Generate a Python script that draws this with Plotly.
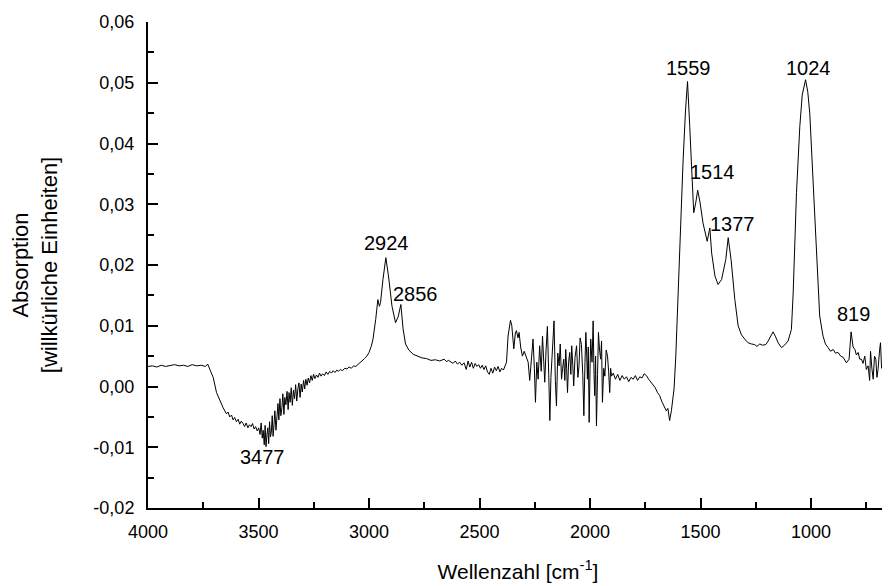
import plotly.graph_objects as go

# ---- data (wavenumber cm^-1, absorbance) ----
wn_a = [4000, 3980, 3960, 3940, 3920, 3900, 3880, 3860, 3840, 3820, 3800, 3780, 3760, 3740, 3730,
        3720, 3705, 3690, 3675, 3660, 3645, 3638, 3630, 3622, 3615, 3608, 3600, 3592, 3585, 3578,
        3570, 3563, 3556, 3548, 3541, 3534, 3527, 3520, 3513, 3506, 3499, 3493, 3488, 3483, 3479,
        3474, 3470, 3466, 3462, 3458, 3454, 3450, 3446, 3442, 3438, 3434, 3430, 3426, 3421, 3417,
        3412, 3408, 3403, 3399, 3394, 3390, 3385, 3381, 3376, 3371, 3366, 3362, 3357, 3352, 3347,
        3342, 3337, 3332, 3327, 3322, 3317, 3312, 3307, 3302, 3296, 3291, 3286, 3280, 3275, 3269,
        3263, 3257, 3251, 3245, 3238, 3231, 3224, 3217, 3210, 3202, 3194, 3186, 3178, 3170, 3162,
        3154, 3146, 3138, 3130, 3120, 3110, 3100, 3090, 3080, 3070, 3060, 3050, 3040, 3030, 3020, 3010]
ab_a = [0.0033, 0.0034, 0.0032, 0.0035, 0.0033, 0.0034, 0.0036, 0.0034, 0.0035, 0.0033, 0.0036, 0.0034, 0.0035, 0.0033, 0.0037,
        0.0028, 0.0015, -0.0010, -0.0024, -0.0035, -0.0045, -0.0042, -0.0050, -0.0047, -0.0055, -0.0051, -0.0058, -0.0054, -0.0062, -0.0057,
        -0.0061, -0.0066, -0.0060, -0.0068, -0.0063, -0.0066, -0.0061, -0.0070, -0.0066, -0.0073, -0.0068, -0.0079, -0.0060, -0.0085, -0.0072,
        -0.0096, -0.0064, -0.0099, -0.0080, -0.0068, -0.0094, -0.0058, -0.0083, -0.0075, -0.0048, -0.0082, -0.0063, -0.0040, -0.0072, -0.0050,
        -0.0028, -0.0055, -0.0020, -0.0048, -0.0035, -0.0012, -0.0046, -0.0018, -0.0030, -0.0008, -0.0038, -0.0010, -0.0026, -0.0002, -0.0031,
        -0.0006, -0.0020, 0.0003, -0.0024, -0.0004, 0.0006, -0.0018, 0.0004, -0.0009, 0.0010, -0.0004, 0.0012, 0.0002, 0.0014, 0.0006,
        0.0018, 0.0010, 0.0020, 0.0013, 0.0019, 0.0015, 0.0022, 0.0017, 0.0021, 0.0018, 0.0024, 0.0020, 0.0025, 0.0022, 0.0026,
        0.0023, 0.0027, 0.0025, 0.0028, 0.0026, 0.0030, 0.0029, 0.0032, 0.0030, 0.0034, 0.0033, 0.0036, 0.0039, 0.0042, 0.0046, 0.0050]

wn_b = [3000, 2990, 2982, 2970, 2960, 2953, 2948, 2937, 2924, 2912, 2896, 2880, 2868, 2856, 2846,
        2835, 2820, 2800, 2780, 2760, 2740, 2720, 2700, 2680, 2660, 2650, 2640, 2630, 2620, 2610,
        2600, 2590, 2580, 2570, 2560, 2552, 2544, 2536, 2528, 2520, 2512, 2504, 2496, 2488, 2480,
        2472, 2464, 2456, 2448, 2440, 2432, 2424, 2416, 2408, 2400, 2392, 2385, 2378, 2371, 2364,
        2360, 2354, 2350, 2345, 2338, 2333, 2326, 2321, 2314, 2306, 2298, 2288, 2280, 2273, 2265]
ab_b = [0.0056, 0.0066, 0.0078, 0.0110, 0.0143, 0.0132, 0.0138, 0.0176, 0.0212, 0.0182, 0.0132, 0.0105, 0.0115, 0.0135, 0.0095,
        0.0070, 0.0060, 0.0053, 0.0050, 0.0047, 0.0046, 0.0043, 0.0044, 0.0042, 0.0045, 0.0041, 0.0043, 0.0040, 0.0038, 0.0042,
        0.0037, 0.0040, 0.0035, 0.0039, 0.0028, 0.0042, 0.0032, 0.0040, 0.0030, 0.0038, 0.0033, 0.0036, 0.0030, 0.0035, 0.0028,
        0.0034, 0.0024, 0.0020, 0.0030, 0.0022, 0.0032, 0.0026, 0.0033, 0.0024, 0.0030, 0.0027, 0.0034, 0.0040, 0.0083, 0.0105,
        0.0109, 0.0100, 0.0075, 0.0062, 0.0088, 0.0092, 0.0080, 0.0089, 0.0065, 0.0050, 0.0058, 0.0046, 0.0040, 0.0010, 0.0050]

wn_c = [2258, 2252, 2247, 2241, 2235, 2228, 2221, 2215, 2210, 2205, 2199, 2193, 2187, 2182, 2177,
        2172, 2167, 2163, 2157, 2152, 2146, 2140, 2135, 2129, 2124, 2119, 2114, 2110, 2106, 2102,
        2097, 2092, 2087, 2083, 2078, 2074, 2068, 2061, 2055, 2050, 2045, 2039, 2033, 2028, 2023,
        2019, 2015, 2012, 2008, 2004, 2000, 1997, 1991, 1986, 1982, 1979, 1975, 1971, 1966, 1962,
        1957, 1952, 1948, 1944, 1938, 1933, 1927, 1921, 1916, 1911, 1907, 1903]
ab_c = [0.0078, 0.0030, -0.0026, 0.0040, 0.0012, 0.0067, 0.0025, 0.0083, 0.0045, 0.0007, 0.0060, 0.0099, 0.0020, -0.0056, 0.0015,
        0.0050, 0.0085, 0.0108, 0.0010, -0.0032, 0.0055, 0.0034, 0.0070, 0.0012, 0.0030, 0.0045, 0.0010, 0.0061, 0.0030, -0.0010,
        0.0040, 0.0056, 0.0020, 0.0067, 0.0035, 0.0001, 0.0048, 0.0067, 0.0015, 0.0034, 0.0080, 0.0069, 0.0020, -0.0048, 0.0040,
        0.0089, 0.0050, 0.0012, 0.0065, -0.0059, 0.0030, 0.0078, 0.0040, 0.0108, 0.0020, -0.0015, 0.0050, -0.0065, 0.0020, 0.0089,
        0.0060, 0.0045, 0.0075, -0.0026, 0.0030, 0.0017, 0.0060, 0.0050, 0.0025, -0.0010, 0.0030, 0.0017]

wn_d = [1895, 1885, 1875, 1865, 1855, 1845, 1835, 1825, 1815, 1805, 1795, 1785, 1775, 1765, 1755,
        1745, 1735, 1725, 1715, 1705, 1695, 1685, 1675, 1665, 1655, 1648, 1640, 1632, 1620, 1612,
        1600, 1590, 1579, 1568, 1559, 1549, 1538, 1531, 1522, 1513, 1502, 1489, 1470, 1458, 1450,
        1435, 1421, 1405, 1386, 1375, 1362, 1345, 1330, 1315, 1300, 1285, 1270, 1255, 1245, 1232,
        1220, 1205, 1194, 1182, 1172, 1162, 1149, 1134, 1120, 1104, 1089, 1081, 1066, 1051, 1040,
        1025, 1015, 1006, 991, 976, 961, 946, 935, 923, 912, 900, 890, 878, 866, 855,
        846, 840, 828, 819, 810, 802, 795, 787, 780, 772, 765, 757, 750, 742, 735,
        731, 725, 719, 713, 707, 702, 697, 690, 686, 681, 677, 672, 667, 663, 659, 655]
ab_d = [0.0022, 0.0012, 0.0020, 0.0010, 0.0018, 0.0012, 0.0016, 0.0008, 0.0015, 0.0012, 0.0018, 0.0010, 0.0016, 0.0014, 0.0021,
        0.0018, 0.0012, 0.0007, 0.0004, -0.0002, -0.0010, -0.0015, -0.0025, -0.0032, -0.0040, -0.0036, -0.0056, -0.0040, -0.0004, 0.0050,
        0.0176, 0.0260, 0.0373, 0.0455, 0.0502, 0.0428, 0.0335, 0.0286, 0.0302, 0.0323, 0.0302, 0.0269, 0.0239, 0.0261, 0.0220,
        0.0182, 0.0168, 0.0176, 0.0209, 0.0245, 0.0209, 0.0143, 0.0100, 0.0085, 0.0078, 0.0072, 0.0070, 0.0069, 0.0066, 0.0070,
        0.0068, 0.0069, 0.0075, 0.0084, 0.0090, 0.0083, 0.0072, 0.0064, 0.0068, 0.0075, 0.0094, 0.0154, 0.0319, 0.0428, 0.0480,
        0.0505, 0.0485, 0.0450, 0.0346, 0.0236, 0.0116, 0.0083, 0.0070, 0.0064, 0.0058, 0.0061, 0.0055, 0.0056, 0.0050, 0.0048,
        0.0042, 0.0039, 0.0045, 0.0090, 0.0065, 0.0061, 0.0052, 0.0056, 0.0045, 0.0045, 0.0038, 0.0050, 0.0028, 0.0034, 0.0010,
        0.0058, 0.0030, 0.0012, 0.0050, 0.0045, 0.0015, 0.0028, 0.0060, 0.0072, 0.0030, 0.0034, 0.0065, 0.0080, 0.0050, 0.0067, -0.0037]

wavenumber = wn_a + wn_b + wn_c + wn_d
absorption = ab_a + ab_b + ab_c + ab_d

# peak labels: text, label-centre wavenumber, label-centre absorbance
peak_text = ["3477", "2924", "2856", "1559", "1514", "1377", "1024", "819"]
peak_x = [3480, 2920, 2791, 1553, 1447, 1356, 1010, 807]
peak_y = [-0.0116, 0.0237, 0.0152, 0.0525, 0.0353, 0.0268, 0.0525, 0.0119]

x_ticks = [4000, 3500, 3000, 2500, 2000, 1500, 1000]
y_ticks = [-0.02, -0.01, 0.0, 0.01, 0.02, 0.03, 0.04, 0.05, 0.06]
y_tick_text = ["-0,02", "-0,01", "0,00", "0,01", "0,02", "0,03", "0,04", "0,05", "0,06"]

FONT = "Liberation Sans, Arial, sans-serif"

fig = go.Figure()
fig.add_trace(go.Scatter(x=wavenumber, y=absorption, mode="lines",
                         line=dict(color="black", width=1), showlegend=False,
                         hoverinfo="skip"))

for t, px, py in zip(peak_text, peak_x, peak_y):
    fig.add_annotation(x=px, y=py, text=t, showarrow=False, xanchor="center", yanchor="middle",
                       font=dict(family=FONT, size=20, color="black"))

# page body has an 8 px default margin, so the figure is sized to fit the window
fig.update_layout(
    width=882, height=578,
    margin=dict(l=140, r=2, t=14, b=78),
    paper_bgcolor="white", plot_bgcolor="white",
    font=dict(family=FONT, color="black"),
)
fig.update_xaxes(
    range=[4000, 652], tickmode="array", tickvals=x_ticks, automargin=False,
    ticks="inside", ticklen=10, tickwidth=1.5, tickcolor="black",
    minor=dict(tickmode="linear", tick0=0, dtick=250, ticks="inside", ticklen=6, tickwidth=1.5, tickcolor="black"),
    showline=True, linecolor="black", linewidth=2, mirror=False,
    showgrid=False, zeroline=False,
    tickfont=dict(family=FONT, size=18, color="black"), ticklabelstandoff=6,
    title=dict(text="Wellenzahl [cm<sup>-1</sup>]", font=dict(family=FONT, size=21, color="black"), standoff=24),
)
fig.update_yaxes(
    range=[-0.02, 0.06], tickmode="array", tickvals=y_ticks, ticktext=y_tick_text, automargin=False,
    ticks="inside", ticklen=10, tickwidth=1.5, tickcolor="black",
    minor=dict(tickmode="linear", tick0=0, dtick=0.005, ticks="inside", ticklen=6, tickwidth=1.5, tickcolor="black"),
    showline=True, linecolor="black", linewidth=2, mirror=False,
    showgrid=False, zeroline=False,
    tickfont=dict(family=FONT, size=18, color="black"), ticklabelstandoff=8,
    title=dict(text="Absorption<br>[willkürliche Einheiten]", font=dict(family=FONT, size=22, color="black"), standoff=34),
)

fig.write_html("out.html")
